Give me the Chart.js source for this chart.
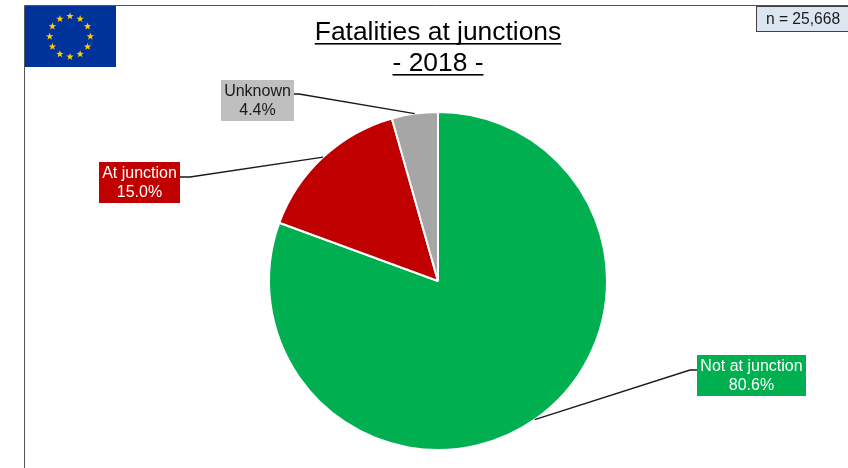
<!DOCTYPE html>
<html>
<head>
<meta charset="utf-8">
<title>Fatalities at junctions</title>
<script src="https://cdn.jsdelivr.net/npm/chart.js@4/dist/chart.umd.min.js"></script>
<style>
  html,body{margin:0;padding:0;background:#fff;overflow:hidden}
  canvas{display:block}
</style>
</head>
<body>
<canvas id="pieChart" width="848" height="468"></canvas>
<script>
const categories=['Not at junction','At junction','Unknown'];
const shares=[80.6,15.0,4.4];
const sliceColors=['#00b050','#c00000','#a6a6a6'];
const titleLines=['Fatalities at junctions','- 2018 -'];
const sampleNote='n = 25,668';

// label boxes and the elbow where each leader line bends
const labelBoxes=[
    {x:697,y:355,w:109,h:41,fill:'#00b050',text:'#ffffff',elbowX:690,elbowY:370,startX:697},
    {x:99,y:162,w:81,h:41,fill:'#c00000',text:'#ffffff',elbowX:190,elbowY:177,startX:180},
    {x:221,y:80,w:73,h:41,fill:'#bfbfbf',text:'#1a1a1a',elbowX:299,elbowY:94,startX:294}
];

const FONT='"Liberation Sans", Arial, sans-serif';

function star(c,cx,cy,r){
    c.beginPath();
    for(let i=0;i<10;i++){
        const rad=i%2===0?r:r*0.4;
        const a=-Math.PI/2+i*Math.PI/5;
        c.lineTo(cx+rad*Math.cos(a),cy+rad*Math.sin(a));
    }
    c.closePath();
    c.fill();
}

const framePlugin={
    id:'frame',
    beforeDraw(chart){
        const c=chart.ctx;
        c.save();
        c.strokeStyle='#555555';
        c.lineWidth=1;
        c.beginPath();
        c.moveTo(24.5,468);
        c.lineTo(24.5,5.5);
        c.lineTo(848,5.5);
        c.stroke();

        // flag
        c.fillStyle='#003399';
        c.fillRect(25,6,91,61);
        c.fillStyle='#ffcc00';
        for(let i=0;i<12;i++){
            const a=i*Math.PI/6;
            star(c,70+20.3*Math.sin(a),36.5-20.3*Math.cos(a),3.9);
        }

        // title
        c.fillStyle='#000000';
        c.font='26.4px '+FONT;
        c.textAlign='center';
        c.textBaseline='alphabetic';
        titleLines.forEach((line,i)=>{
            const y=40+i*31;
            c.fillText(line,438,y);
            const w=c.measureText(line).width;
            c.fillRect(438-w/2,y+3,w,1.6);
        });

        // sample size box
        c.fillStyle='#dce6f2';
        c.fillRect(756.5,6.5,92,25);
        c.strokeStyle='#404040';
        c.strokeRect(756.5,6.5,92,25);
        c.fillStyle='#1a1a1a';
        c.font='15.6px '+FONT;
        c.textBaseline='middle';
        c.fillText(sampleNote,803,20);
        c.restore();
    },
    afterDatasetsDraw(chart){
        const c=chart.ctx;
        const arcs=chart.getDatasetMeta(0).data;
        c.save();
        labelBoxes.forEach((b,i)=>{
            const arc=arcs[i];
            const mid=(arc.startAngle+arc.endAngle)/2;
            c.strokeStyle='#1a1a1a';
            c.lineWidth=1.4;
            c.beginPath();
            c.moveTo(arc.x+arc.outerRadius*Math.cos(mid),arc.y+arc.outerRadius*Math.sin(mid));
            c.lineTo(b.elbowX,b.elbowY);
            c.lineTo(b.startX,b.elbowY);
            c.stroke();

            c.fillStyle=b.fill;
            c.fillRect(b.x,b.y,b.w,b.h);
            c.fillStyle=b.text;
            c.font='16px '+FONT;
            c.textAlign='center';
            c.textBaseline='middle';
            c.fillText(categories[i],b.x+b.w/2,b.y+12);
            c.fillText(shares[i].toFixed(1)+'%',b.x+b.w/2,b.y+31);
        });
        c.restore();
    }
};

const ctx=document.getElementById('pieChart').getContext('2d');
const piechart=new Chart(ctx,{
    type:'pie',
    data:{
        labels:categories,
        datasets:[{
            data:shares,
            backgroundColor:sliceColors,
            borderColor:'#ffffff',
            borderWidth:2
        }]
    },
    options:{
        responsive:false,
        animation:false,
        layout:{padding:{left:268,right:240,top:111,bottom:17}},
        plugins:{
            legend:{display:false},
            tooltip:{enabled:false}
        }
    },
    plugins:[framePlugin]
});
</script>
</body>
</html>
